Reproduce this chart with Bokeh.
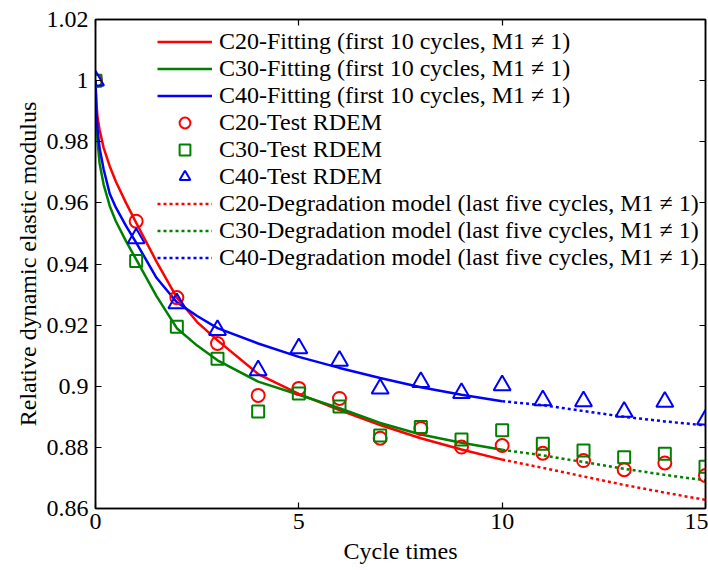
from bokeh.plotting import figure
from bokeh.models import LinearAxis, FixedTicker, Range1d, Legend, LegendItem
from bokeh.embed import file_html
from bokeh.resources import INLINE

# ---------------- data ----------------
cycles = list(range(0, 16))
c20_test = [1.0, 0.954, 0.929, 0.914, 0.897, 0.8993, 0.896, 0.883, 0.8862, 0.8801, 0.8806, 0.8781, 0.8757, 0.8727, 0.8749, 0.8708]
c30_test = [1.0, 0.941, 0.9195, 0.909, 0.8917, 0.8976, 0.8934, 0.8839, 0.8867, 0.8826, 0.8856, 0.8812, 0.8790, 0.8768, 0.8779, 0.8737]
c40_test = [1.0, 0.9484, 0.9271, 0.9184, 0.9052, 0.9124, 0.9083, 0.8992, 0.9014, 0.8978, 0.9003, 0.8954, 0.8951, 0.8916, 0.8949, 0.8891]

fit_x = [0, 0.02, 0.05, 0.1, 0.2, 0.35, 0.5, 0.75, 1, 1.5, 2, 2.5, 3, 4, 5, 6, 7, 8, 9, 10]
c20_fit = [1.0, 0.993, 0.988, 0.984, 0.978, 0.972, 0.967, 0.960, 0.9535, 0.9408, 0.929, 0.921, 0.915, 0.904, 0.8975, 0.8922, 0.8873, 0.8830, 0.8793, 0.8760]
c30_fit = [1.0, 0.988, 0.980, 0.973, 0.966, 0.959, 0.954, 0.9475, 0.9415, 0.9295, 0.919, 0.9133, 0.9085, 0.9015, 0.8972, 0.8928, 0.8880, 0.8842, 0.8815, 0.8792]
c40_fit = [1.0, 0.990, 0.984, 0.978, 0.971, 0.963, 0.9585, 0.9525, 0.947, 0.9355, 0.9275, 0.923, 0.919, 0.914, 0.9096, 0.906, 0.9027, 0.8997, 0.8972, 0.8951]

deg_x = [10, 11, 12, 13, 14, 15]
c20_deg = [0.876, 0.8733, 0.8705, 0.8677, 0.8652, 0.8628]
c30_deg = [0.8792, 0.8774, 0.8752, 0.8730, 0.8710, 0.8692]
c40_deg = [0.8951, 0.8938, 0.8919, 0.8900, 0.8885, 0.8872]

x_ticks = [0, 5, 10, 15]
y_ticks = [0.86, 0.88, 0.90, 0.92, 0.94, 0.96, 0.98, 1.00, 1.02]
y_tick_labels = ["0.86", "0.88", "0.9", "0.92", "0.94", "0.96", "0.98", "1", "1.02"]

legend_labels = [
    "C20-Fitting (first 10 cycles, M1 \u2260 1)",
    "C30-Fitting (first 10 cycles, M1 \u2260 1)",
    "C40-Fitting (first 10 cycles, M1 \u2260 1)",
    "C20-Test RDEM",
    "C30-Test RDEM",
    "C40-Test RDEM",
    "C20-Degradation model (last five cycles, M1 \u2260 1)",
    "C30-Degradation model (last five cycles, M1 \u2260 1)",
    "C40-Degradation model (last five cycles, M1 \u2260 1)",
]

RED, GREEN, BLUE = "#ff0000", "#008000", "#0000ff"
FONT = "Liberation Serif"
FS = "24px"

p = figure(width=708, height=570, output_backend="svg", toolbar_location=None,
           x_range=Range1d(0, 15), y_range=Range1d(0.86, 1.02),
           min_border_left=95, min_border_right=3, min_border_top=19, min_border_bottom=62)
p.background_fill_color = "white"
p.border_fill_color = "white"
p.xgrid.visible = False
p.ygrid.visible = False
p.outline_line_color = "black"
p.outline_line_width = 1.5

def style_axis(ax):
    ax.axis_line_color = "black"
    ax.axis_line_width = 1.5
    ax.major_tick_in = 6
    ax.major_tick_out = 0
    ax.minor_tick_in = 0
    ax.minor_tick_out = 0
    ax.major_tick_line_color = "black"
    ax.major_tick_line_width = 1.2
    ax.major_label_text_font = FONT
    ax.major_label_text_color = "black"
    ax.major_label_text_font_size = FS
    ax.axis_label_text_font = FONT
    ax.axis_label_text_font_style = "normal"
    ax.axis_label_text_color = "black"
    ax.axis_label_text_font_size = FS

xax = p.xaxis[0]
yax = p.yaxis[0]
xax.ticker = FixedTicker(ticks=x_ticks)
yax.ticker = FixedTicker(ticks=y_ticks)
yax.major_label_overrides = dict(zip(y_ticks, y_tick_labels))
style_axis(xax)
style_axis(yax)
xax.axis_label = "Cycle times"
yax.axis_label = "Relative dynamic elastic modulus"
xax.major_label_standoff = 5
yax.major_label_standoff = 7
xax.axis_label_standoff = 6
yax.axis_label_standoff = 3

top = LinearAxis(ticker=FixedTicker(ticks=x_ticks),
                 major_label_overrides={t: "" for t in x_ticks})
right = LinearAxis(ticker=FixedTicker(ticks=y_ticks),
                   major_label_overrides={t: "" for t in y_ticks})
style_axis(top)
style_axis(right)
top.major_label_standoff = 0
right.major_label_standoff = 0
p.add_layout(top, "above")
p.add_layout(right, "right")

LW = 2.5
r_fit = [p.line(fit_x, ys, line_color=c, line_width=LW)
         for ys, c in zip([c20_fit, c30_fit, c40_fit], [RED, GREEN, BLUE])]
r_deg = [p.line(deg_x, ys, line_color=c, line_width=LW, line_dash="3 3")
         for ys, c in zip([c20_deg, c30_deg, c40_deg], [RED, GREEN, BLUE])]
r_c20 = p.scatter(cycles, c20_test, marker="circle", size=13, line_color=RED, line_width=2, fill_alpha=0)
r_c30 = p.scatter(cycles, c30_test, marker="square", size=12, line_color=GREEN, line_width=2, fill_alpha=0)
r_c40 = p.scatter(cycles, c40_test, marker="triangle", size=17, line_color=BLUE, line_width=2, fill_alpha=0)

renderers = r_fit + [r_c20, r_c30, r_c40] + r_deg
items = [LegendItem(label=lab, renderers=[r]) for lab, r in zip(legend_labels, renderers)]
legend = Legend(items=items, location=(62, 237))
legend.label_text_font = FONT
legend.label_text_font_size = FS
legend.label_text_color = "black"
legend.label_height = 27
legend.glyph_height = 27
legend.glyph_width = 55
legend.label_standoff = 7
legend.spacing = 0
legend.padding = 0
legend.margin = 0
legend.border_line_alpha = 0
legend.background_fill_alpha = 0
p.add_layout(legend, "center")

open("out.html", "w").write(file_html(p, INLINE))
